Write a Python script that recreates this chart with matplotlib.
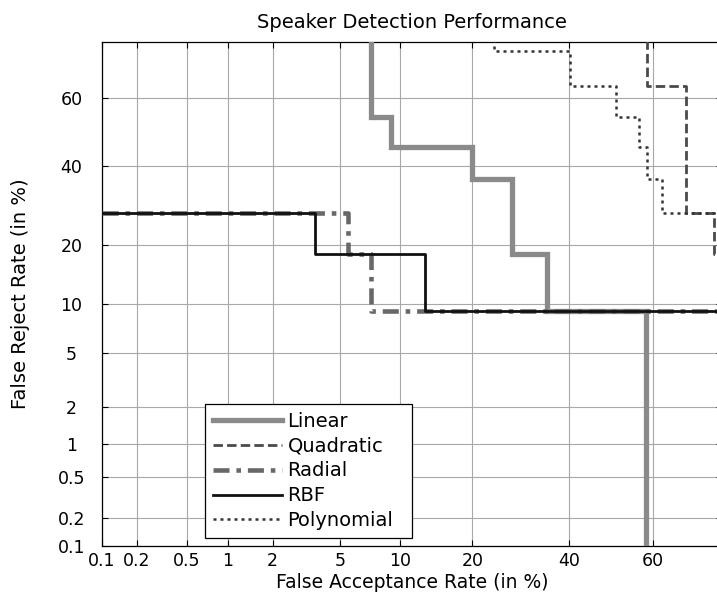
import math
import numpy as np
import matplotlib
matplotlib.use("Agg")
import matplotlib.pyplot as plt

# ---------------- data (percent) ----------------
tick_vals = [0.1, 0.2, 0.5, 1, 2, 5, 10, 20, 40, 60]
tick_labels = ["0.1", "0.2", "0.5", "1", "2", "5", "10", "20", "40", "60"]

linear_fa = [7.3, 7.3, 9.1, 9.1, 20.0, 20.0, 27.5, 27.5, 34.8, 34.8, 58.4, 58.4]
linear_fr = [99.0, 54.5, 54.5, 45.5, 45.5, 36.4, 36.4, 18.2, 18.2, 9.1, 9.1, 0.001]

quad_fa = [58.6, 58.6, 67.5, 67.5, 73.4, 73.4, 99.0]
quad_fr = [99.0, 63.6, 63.6, 27.3, 27.3, 18.2, 18.2]

radial_fa = [0.001, 5.5, 5.5, 7.3, 7.3, 99.0]
radial_fr = [27.3, 27.3, 18.2, 18.2, 9.1, 9.1]

rbf_fa = [0.001, 3.6, 3.6, 12.9, 12.9, 99.0]
rbf_fr = [27.3, 27.3, 18.2, 18.2, 9.1, 9.1]

poly_fa = [23.8, 23.8, 40.1, 40.1, 51.2, 51.2, 56.7, 56.7, 58.6, 58.6, 62.1, 62.1, 99.0]
poly_fr = [81.8, 72.7, 72.7, 63.6, 63.6, 54.5, 54.5, 45.5, 45.5, 36.4, 36.4, 27.3, 27.3]

# ---------------- normal-deviate (probit) scale ----------------
_a = [-3.969683028665376e+01, 2.209460984245205e+02, -2.759285104469687e+02,
      1.383577518672690e+02, -3.066479806614716e+01, 2.506628277459239e+00]
_b = [-5.447609879822406e+01, 1.615858368580409e+02, -1.556989798598866e+02,
      6.680131188771972e+01, -1.328068155288572e+01]
_c = [-7.784894002430293e-03, -3.223964580411365e-01, -2.400758277161838e+00,
      -2.549732539343734e+00, 4.374664141464968e+00, 2.938163982698783e+00]
_d = [7.784695709041462e-03, 3.224671290700398e-01, 2.445134137142996e+00,
      3.754408661907416e+00]


def _ppf_scalar(p):
    p = min(max(p, 1e-12), 1 - 1e-12)
    plow = 0.02425
    if p < plow:
        q = math.sqrt(-2 * math.log(p))
        return (((((_c[0]*q+_c[1])*q+_c[2])*q+_c[3])*q+_c[4])*q+_c[5]) / \
               ((((_d[0]*q+_d[1])*q+_d[2])*q+_d[3])*q+1)
    if p > 1 - plow:
        q = math.sqrt(-2 * math.log(1 - p))
        return -(((((_c[0]*q+_c[1])*q+_c[2])*q+_c[3])*q+_c[4])*q+_c[5]) / \
                ((((_d[0]*q+_d[1])*q+_d[2])*q+_d[3])*q+1)
    q = p - 0.5
    r = q * q
    return (((((_a[0]*r+_a[1])*r+_a[2])*r+_a[3])*r+_a[4])*r+_a[5])*q / \
           (((((_b[0]*r+_b[1])*r+_b[2])*r+_b[3])*r+_b[4])*r+1)


def fwd(pct):
    arr = np.asarray(pct, dtype=float)
    flat = [(_ppf_scalar(v / 100.0) if np.isfinite(v) else v) for v in arr.ravel()]
    return np.array(flat, dtype=float).reshape(arr.shape)


def inv(z):
    arr = np.asarray(z, dtype=float)
    flat = [(50.0 * (1 + math.erf(v / math.sqrt(2))) if np.isfinite(v) else v)
            for v in arr.ravel()]
    return np.array(flat, dtype=float).reshape(arr.shape)


plt.rcParams["font.family"] = ["DejaVu Sans"]
FS = 14
TFS = 12.5

fig = plt.figure(figsize=(7.17, 5.93), dpi=100)
ax = fig.add_axes([102 / 717, 47 / 593, 620 / 717, 504 / 593])
ax.set_xscale("function", functions=(fwd, inv))
ax.set_yscale("function", functions=(fwd, inv))
ax.set_xlim(0.1, 75)
ax.set_ylim(0.1, 75)

ax.plot(linear_fa, linear_fr, color="#8a8a8a", lw=3.8, label="Linear",
        solid_joinstyle="miter", zorder=3)
ax.plot(quad_fa, quad_fr, color="#4a4a4a", lw=2.0, dashes=(3.4, 1.5),
        label="Quadratic", zorder=4)
ax.plot(radial_fa, radial_fr, color="#686868", lw=3.3, dashes=(3.5, 1.5, 1.0, 1.5),
        label="Radial", zorder=4)
ax.plot(rbf_fa, rbf_fr, color="#111111", lw=2.0, label="RBF", zorder=5)
ax.plot(poly_fa, poly_fr, color="#333333", lw=1.8, dashes=(1.2, 1.6),
        label="Polynomial", zorder=4)

ax.set_xticks(tick_vals)
ax.set_xticklabels(tick_labels)
ax.set_yticks(tick_vals)
ax.set_yticklabels(tick_labels)
ax.minorticks_off()
ax.tick_params(axis="both", which="major", direction="in", length=4, width=0.8,
               labelsize=TFS, top=True, right=True, colors="black")
ax.tick_params(axis="x", pad=4)
ax.tick_params(axis="y", pad=22)
for lbl in ax.get_yticklabels():
    lbl.set_horizontalalignment("center")

ax.grid(True, color="#a8a8a8", lw=0.8, zorder=0)
ax.set_axisbelow(True)
for sp in ax.spines.values():
    sp.set_linewidth(0.9)
    sp.set_color("black")

ax.set_title("Speaker Detection Performance", fontsize=FS, pad=10)
ax.set_xlabel("False Acceptance Rate (in %)", fontsize=13.5, va="bottom")
ax.xaxis.set_label_coords(0.5, -0.0905)
ax.set_ylabel("False Reject Rate (in %)", fontsize=FS)
ax.yaxis.set_label_coords(-0.116, 0.5)

leg = ax.legend(loc="lower left", bbox_to_anchor=(0.166, 0.016, 0.334, 0.266),
                mode="expand", fontsize=FS, frameon=True, fancybox=False,
                framealpha=1, edgecolor="black", borderaxespad=0,
                handlelength=3.55, handletextpad=0.3, labelspacing=0.3,
                borderpad=0.4)
leg.get_frame().set_linewidth(0.9)
leg.set_zorder(10)

fig.savefig("out.png", dpi=100)
